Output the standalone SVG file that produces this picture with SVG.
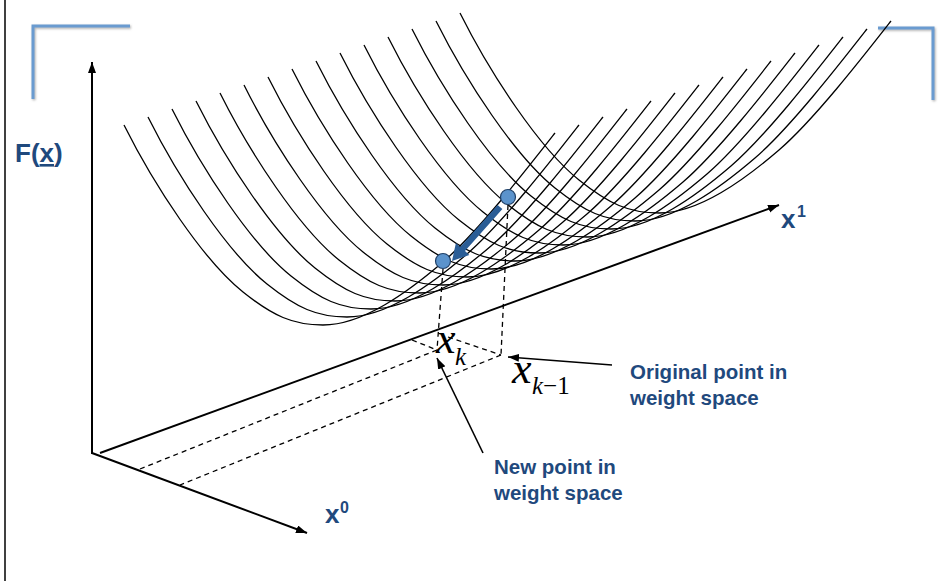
<svg xmlns="http://www.w3.org/2000/svg" xmlns:xlink="http://www.w3.org/1999/xlink" width="949" height="581" viewBox="0 0 949 581">
<style>
.curve{fill:none;stroke:#000;stroke-width:1.3}
.axis{fill:none;stroke:#000;stroke-width:2}
.dash{fill:none;stroke:#000;stroke-width:1.3;stroke-dasharray:5 4}
.ptr{fill:none;stroke:#000;stroke-width:1.6}
.bracket{fill:none;stroke:#6a9bd0;stroke-width:3;filter:url(#sh)}
.lbl{font-family:"Liberation Sans",Arial,sans-serif;font-weight:bold;fill:#1f497d}
.math{font-family:"Liberation Serif","Times New Roman",serif;fill:#000}
.pt{fill:#5b93cc;stroke:#1f3f66;stroke-width:1.2}
</style>
<defs>
<marker id="ah" markerUnits="userSpaceOnUse" markerWidth="12" markerHeight="10" refX="11" refY="4" orient="auto">
<path d="M0,0 L11,4 L0,8 z" fill="#000"/>
</marker>
<filter id="sh" x="-20%" y="-20%" width="140%" height="140%">
<feDropShadow dx="1" dy="1.2" stdDeviation="0.8" flood-color="#777" flood-opacity="0.6"/>
</filter>
<path id="c" class="curve" d="M124,125 C154,185 203,260 243,292 C273,316 293,325 323,325 C363,325 408,292 443,262 C478,232 530,165 555,133"/>
</defs>
<rect width="949" height="581" fill="#fff"/>
<line x1="5" y1="0" x2="5" y2="581" stroke="#000" stroke-width="1.5"/>
<g id="brackets">
<path class="bracket" d="M130,26 L33,26 L33,99"/>
<path class="bracket" d="M878,28 L933,28 L933,100"/>
</g>
<g id="surface">
<use xlink:href="#c"/>
<use xlink:href="#c" transform="translate(24,-8)"/>
<use xlink:href="#c" transform="translate(48,-16)"/>
<use xlink:href="#c" transform="translate(72,-24)"/>
<use xlink:href="#c" transform="translate(96,-32)"/>
<use xlink:href="#c" transform="translate(120,-40)"/>
<use xlink:href="#c" transform="translate(144,-48)"/>
<use xlink:href="#c" transform="translate(168,-56)"/>
<use xlink:href="#c" transform="translate(192,-64)"/>
<use xlink:href="#c" transform="translate(216,-72)"/>
<use xlink:href="#c" transform="translate(240,-80)"/>
<use xlink:href="#c" transform="translate(264,-88)"/>
<use xlink:href="#c" transform="translate(288,-96)"/>
<use xlink:href="#c" transform="translate(312,-104)"/>
<use xlink:href="#c" transform="translate(336,-112)"/>
</g>
<g id="connectors">
<line class="axis" x1="92" y1="454" x2="92" y2="62" marker-end="url(#ah)"/>
<line class="axis" x1="92" y1="453" x2="307" y2="533" marker-end="url(#ah)"/>
<line class="axis" x1="100" y1="453" x2="779" y2="205" marker-end="url(#ah)"/>
<line class="dash" x1="443" y1="269" x2="437" y2="350"/>
<line class="dash" x1="508" y1="205" x2="501" y2="355"/>
<line class="dash" x1="412" y1="340" x2="437" y2="350"/>
<line class="dash" x1="448" y1="337" x2="501" y2="355"/>
<line class="dash" x1="437" y1="350" x2="140" y2="469"/>
<line class="dash" x1="501" y1="355" x2="180" y2="485"/>
<line class="ptr" x1="612" y1="365" x2="508" y2="357" marker-end="url(#ah)"/>
<line class="ptr" x1="483" y1="453" x2="437" y2="358" marker-end="url(#ah)"/>
<polygon points="497.6,204.9 460.2,246.9 455.9,243.0 452,261 469.3,255.0 465.0,251.1 502.4,209.1" fill="#2a5d96"/>
</g>
<g id="point-old"><circle class="pt" cx="508" cy="197" r="7.5"/></g>
<g id="point-new"><circle class="pt" cx="443" cy="261" r="7.5"/></g>
<g id="label-F"><text class="lbl" x="15" y="162" font-size="26">F(<tspan text-decoration="underline">x</tspan>)</text></g>
<g id="label-x1"><text class="lbl" x="781" y="228" font-size="26">x</text><text class="lbl" x="797" y="217" font-size="16">1</text></g>
<g id="label-x0"><text class="lbl" x="325" y="523" font-size="26">x</text><text class="lbl" x="340" y="513" font-size="16">0</text></g>
<g id="label-xk"><text class="math" x="436" y="353" font-size="44" font-style="italic">x</text><text class="math" x="455" y="365" font-size="25" font-style="italic">k</text></g>
<g id="label-xk1"><text class="math" x="512" y="383" font-size="44" font-style="italic">x</text><text class="math" x="532" y="394" font-size="25"><tspan font-style="italic">k</tspan>−1</text></g>
<g id="label-original"><text class="lbl" font-size="20.5"><tspan x="630" y="379">Original point in</tspan><tspan x="630" y="405">weight space</tspan></text></g>
<g id="label-new"><text class="lbl" font-size="20.5"><tspan x="494" y="474">New point in</tspan><tspan x="494" y="500">weight space</tspan></text></g>
</svg>
